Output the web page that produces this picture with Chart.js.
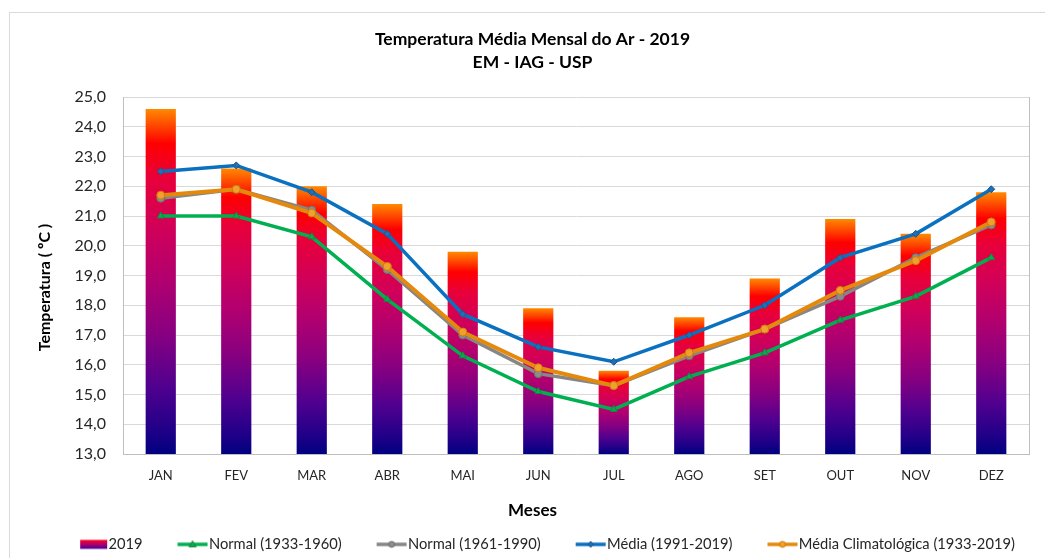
<!DOCTYPE html>
<html><head><meta charset="utf-8">
<script src="https://cdn.jsdelivr.net/npm/chart.js@4.4.1/dist/chart.umd.min.js"></script>
<style>
html,body{margin:0;padding:0;background:#fff;overflow:hidden;width:1045px;height:558px;}
#frame{position:absolute;left:9px;top:12px;width:1100px;height:600px;border-left:1px solid #d9d9d9;border-top:1px solid #d9d9d9;}
canvas{position:absolute;left:0;top:0;}
</style></head><body>
<div id="frame"><canvas id="c" width="1045" height="545"></canvas></div>
<script>
const months = ['JAN','FEV','MAR','ABR','MAI','JUN','JUL','AGO','SET','OUT','NOV','DEZ'];
const temp2019        = [24.6, 22.6, 22.0, 21.4, 19.8, 17.9, 15.8, 17.6, 18.9, 20.9, 20.4, 21.8];
const normal1933_1960 = [21.0, 21.0, 20.3, 18.2, 16.3, 15.1, 14.5, 15.6, 16.4, 17.5, 18.3, 19.6];
const normal1961_1990 = [21.6, 21.9, 21.2, 19.2, 17.0, 15.7, 15.3, 16.3, 17.2, 18.3, 19.6, 20.7];
const media1991_2019  = [22.5, 22.7, 21.8, 20.4, 17.7, 16.6, 16.1, 17.0, 18.0, 19.6, 20.4, 21.9];
const mediaClim1933_2019 = [21.7, 21.9, 21.1, 19.3, 17.1, 15.9, 15.3, 16.4, 17.2, 18.5, 19.5, 20.8];
const yTickValues = [13, 14, 15, 16, 17, 18, 19, 20, 21, 22, 23, 24, 25];
const seriesLabels = ['2019', 'Normal (1933-1960)', 'Normal (1961-1990)', 'Média (1991-2019)', 'Média Climatológica (1933-2019)'];

const FONT = 'Lato, "Open Sans", sans-serif';
Chart.defaults.font.family = FONT;
Chart.defaults.color = '#262626';

function barGradient(c) {
  const chart = c.chart;
  if (!chart.chartArea || c.raw === undefined) return '#b0006a';
  const ys = chart.scales.y;
  const top = ys.getPixelForValue(c.raw), bot = ys.getPixelForValue(ys.min);
  const g = chart.ctx.createLinearGradient(0, top, 0, bot);
  g.addColorStop(0, '#ff8a00');
  g.addColorStop(0.1, '#ff0000');
  g.addColorStop(0.2, '#e8003a');
  g.addColorStop(0.35, '#d0005a');
  g.addColorStop(0.5, '#b00070');
  g.addColorStop(0.65, '#880080');
  g.addColorStop(0.8, '#52008f');
  g.addColorStop(0.93, '#200088');
  g.addColorStop(1, '#000080');
  return g;
}

const W_ICON = 65, H_ICON = 14;
function lineIcon(color, marker, mFill, mStroke) {
  const cv = document.createElement('canvas');
  cv.width = W_ICON; cv.height = H_ICON;
  const x = cv.getContext('2d');
  const x0 = W_ICON - 31, cy = H_ICON / 2, cx = x0 + 15;
  x.strokeStyle = color; x.lineWidth = 3.5;
  x.beginPath(); x.moveTo(x0, cy); x.lineTo(x0 + 30, cy); x.stroke();
  x.fillStyle = mFill; x.strokeStyle = mStroke; x.lineWidth = 1;
  x.beginPath();
  if (marker === 'triangle') { x.moveTo(cx, cy - 3.5); x.lineTo(cx + 3.5, cy + 2.5); x.lineTo(cx - 3.5, cy + 2.5); x.closePath(); }
  else if (marker === 'rectRot') { x.moveTo(cx, cy - 3); x.lineTo(cx + 3, cy); x.lineTo(cx, cy + 3); x.lineTo(cx - 3, cy); x.closePath(); }
  else { x.arc(cx, cy, 3, 0, Math.PI * 2); }
  x.fill(); x.stroke();
  return cv;
}
function barIcon() {
  const cv = document.createElement('canvas');
  cv.width = W_ICON; cv.height = H_ICON;
  const x = cv.getContext('2d');
  const g = x.createLinearGradient(0, 2.5, 0, 11.5);
  g.addColorStop(0, '#ff0020'); g.addColorStop(0.5, '#b0006a'); g.addColorStop(1, '#40009a');
  x.fillStyle = g; x.fillRect(W_ICON - 28, 2.5, 27, 9);
  return cv;
}

const styles = [
  null,
  {color: '#00b050', marker: 'triangle', fill: '#12a84e', stroke: '#0b8a3f', r: 4},
  {color: '#868686', marker: 'circle', fill: '#8c8c8c', stroke: '#6e6e6e', r: 4},
  {color: '#0a70c0', marker: 'rectRot', fill: '#1f6fb5', stroke: '#17568e', r: 3.5},
  {color: '#e4890c', marker: 'circle', fill: '#f0a030', stroke: '#d07c00', r: 4}
];
const icons = [barIcon()].concat(styles.slice(1).map(s => lineIcon(s.color, s.marker, s.fill, s.stroke)));
const lineData = [normal1933_1960, normal1961_1990, media1991_2019, mediaClim1933_2019];
const lineOrder = [4, 3, 2, 1];

const datasets = [{
  type: 'bar', label: seriesLabels[0], data: temp2019,
  backgroundColor: barGradient, borderWidth: 0,
  categoryPercentage: 1.0, barPercentage: 0.4, order: 10
}].concat(lineData.map((d, i) => {
  const s = styles[i + 1];
  return {
    type: 'line', label: seriesLabels[i + 1], data: d,
    borderColor: s.color, borderWidth: i === 3 ? 4 : 3.5, tension: 0,
    pointStyle: s.marker, pointRadius: s.r, pointBackgroundColor: s.fill,
    pointBorderColor: s.stroke, pointBorderWidth: 1, fill: false, order: lineOrder[i]
  };
}));

new Chart(document.getElementById('c'), {
  data: {labels: months, datasets},
  options: {
    responsive: false, animation: false,
    layout: {padding: {left: 0, right: 0, top: 0, bottom: 0}},
    plugins: {
      tooltip: {enabled: false},
      title: {
        display: true, text: ['Temperatura Média Mensal do Ar - 2019', 'EM - IAG - USP'],
        color: '#000', font: {size: 17.5, weight: 'bold', lineHeight: 1.286},
        padding: {top: 15.25, bottom: 23.75}
      },
      subtitle: {
        display: true, position: 'bottom', weight: 500, text: 'Meses',
        color: '#000', font: {size: 17, weight: 'bold', lineHeight: 1.2},
        padding: {top: 5.5, bottom: 8.1}
      },
      legend: {
        position: 'bottom', weight: 1000, maxHeight: 29,
        labels: {
          usePointStyle: true, pointStyleWidth: 51, padding: 8,
          font: {size: 14.7}, color: '#262626',
          generateLabels: chart => chart.data.datasets.map((ds, i) => ({
            text: ds.label, pointStyle: icons[i], datasetIndex: i, hidden: false,
            fontColor: '#262626', lineWidth: 0, strokeStyle: 'rgba(0,0,0,0)', fillStyle: 'rgba(0,0,0,0)'
          }))
        }
      }
    },
    scales: {
      x: {
        type: 'category', offset: true,
        grid: {display: false, drawTicks: false},
        border: {display: true, color: '#bfbfbf', width: 1},
        ticks: {padding: 14, font: {size: 13}, color: '#262626'},
        afterFit(s) { s.height = 41; }
      },
      y: {
        type: 'linear', position: 'left', min: 13, max: 25,
        afterBuildTicks(s) { s.ticks = yTickValues.map(v => ({value: v})); },
        ticks: {
          padding: 17, font: {size: 16}, color: '#262626',
          callback: v => v.toFixed(1).replace('.', ',')
        },
        grid: {color: '#d9d9d9', lineWidth: 1, drawTicks: false},
        border: {display: true, color: '#bfbfbf', width: 1},
        title: {
          display: true, text: 'Temperatura ( ºC )\u2003\u2003', color: '#000',
          font: {size: 16, weight: 'bold', lineHeight: 1.2}, padding: {top: 25, bottom: 0}
        },
        afterFit(s) { s.width = 113; }
      },
      y2: {
        type: 'linear', position: 'right', min: 13, max: 25,
        ticks: {display: false}, grid: {display: false, drawTicks: false},
        border: {display: true, color: '#bfbfbf', width: 1},
        afterFit(s) { s.width = 26; }
      }
    }
  }
});
</script>
</body></html>
